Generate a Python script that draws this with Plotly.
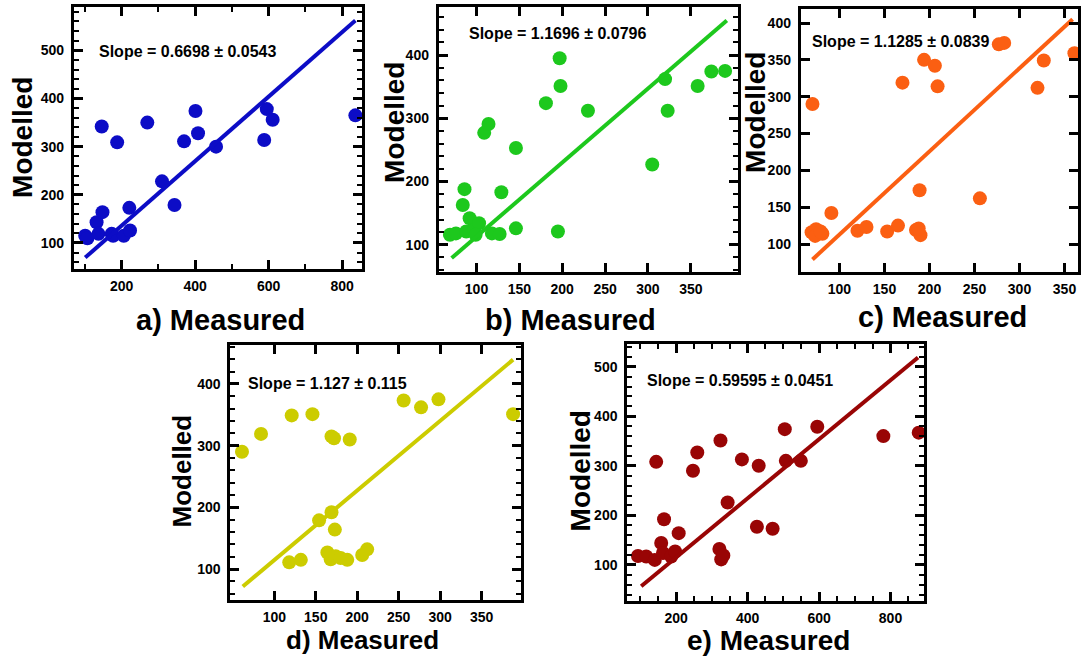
import plotly.graph_objects as go

W, H = 1081, 658

# ---------------- data ----------------
a_x = [101, 107, 132, 146, 148, 137, 173, 177, 188, 206, 221, 223, 270, 310, 344, 370, 401, 408, 457, 588, 595, 611, 836]
a_y = [115, 110, 143, 342, 164, 119, 119, 115, 309, 115, 173, 126, 350, 228, 179, 311, 374, 328, 300, 314, 378, 356, 365]

b_x = [69, 76, 86, 84, 92, 88, 97, 103, 99, 109, 114, 118, 127, 129, 146, 146, 181, 195, 197, 198, 230, 305, 320, 323, 358, 374, 390]
b_y = [116, 118, 188, 163, 142, 121, 124, 134, 116, 277, 291, 118, 117, 183, 253, 126, 324, 121, 395, 351, 312, 227, 362, 312, 351, 374, 375]

c_x = [70, 69, 74, 73, 81, 79, 91, 120, 130, 153, 165, 170, 185, 189, 190, 188, 194, 206, 209, 256, 277, 283, 320, 327, 361]
c_y = [290, 116, 120, 111, 114, 117, 142, 118, 123, 117, 125, 319, 119, 173, 112, 121, 350, 342, 314, 162, 371, 373, 312, 349, 359]

d_x = [61, 84, 121, 146, 169, 172, 191, 154, 169, 173, 118, 132, 164, 168, 174, 180, 188, 206, 212, 256, 277, 298, 388]
d_y = [290, 319, 349, 351, 315, 312, 310, 179, 192, 164, 111, 115, 127, 116, 121, 118, 115, 123, 132, 373, 362, 375, 351]

e_x = [93, 116, 140, 144, 158, 166, 163, 186, 197, 207, 247, 259, 324, 321, 326, 332, 344, 384, 426, 431, 470, 504, 507, 549, 595, 780, 879]
e_y = [118, 117, 110, 308, 144, 192, 124, 117, 127, 164, 290, 327, 351, 132, 111, 119, 226, 313, 177, 300, 173, 374, 310, 310, 379, 360, 367]

labels = ["a)", "b)", "c)", "d)", "e)"]
slopes = [0.6698, 1.1696, 1.1285, 1.127, 0.59595]
slope_errs = ["0.0543", "0.0796", "0.0839", "0.115", "0.0451"]
intercepts = [2, -4, 0, 2, -4]
fit_start = [101, 71, 70, 62, 102]
fit_end = [836, 392, 359, 388, 877]

a_xticks = [200, 400, 600, 800]
a_yticks = [100, 200, 300, 400, 500]
b_xticks = [100, 150, 200, 250, 300, 350]
b_yticks = [100, 200, 300, 400]
c_xticks = [100, 150, 200, 250, 300, 350]
c_yticks = [100, 150, 200, 250, 300, 350, 400]
d_xticks = [100, 150, 200, 250, 300, 350]
d_yticks = [100, 200, 300, 400]
e_xticks = [200, 400, 600, 800]
e_yticks = [100, 200, 300, 400, 500]

colors = ["#0c0cc6", "#1dc81d", "#fb5f12", "#cccc00", "#990505"]

# ---------------- layout geometry (pixels) ----------------
boxes = [  # x0, x1, y0, y1 (pixel, y from top)
    (74, 363, 7, 269),
    (440, 740, 7, 272),
    (803, 1081, 9, 272),
    (231, 522, 345, 600),
    (629, 927, 344, 601),
]
xranges = [(70, 854), (56, 405), (57, 365), (47, 397), (63, 895)]
yranges = [(46, 590), (57, 476), (62, 419), (50, 463), (27, 546)]
xminor = [100, None, None, None, 50]
yminor = [20, 20, None, 20, 20]
xtick_sets = [a_xticks, b_xticks, c_xticks, d_xticks, e_xticks]
ytick_sets = [a_yticks, b_yticks, c_yticks, d_yticks, e_yticks]

xt_pos = [(221, 320), (572, 320), (945, 317), (364, 640), (771, 640)]
xt_size = [29, 29, 29, 26, 28]
yt_pos = [(23, 137), (395, 122), (757, 112), (183, 471), (583, 471)]
yt_size = [28, 28, 28, 26, 28]
slope_pos = [(97, 52), (468, 34), (812, 42), (247, 383), (647, 381)]

data_x = [a_x, b_x, c_x, d_x, e_x]
data_y = [a_y, b_y, c_y, d_y, e_y]

FONT = "Liberation Sans, Arial, sans-serif"

fig = go.Figure()
layout = dict(
    width=W, height=H,
    margin=dict(l=0, r=0, t=0, b=0),
    paper_bgcolor="white", plot_bgcolor="white",
    showlegend=False,
    annotations=[],
)

for i in range(5):
    n = "" if i == 0 else str(i + 1)
    xa, ya = "x" + n, "y" + n
    x0, x1, y0, y1 = boxes[i]
    fig.add_trace(go.Scatter(
        x=data_x[i], y=data_y[i], mode="markers", xaxis=xa, yaxis=ya,
        marker=dict(size=14, color=colors[i], line=dict(width=0)),
    ))
    fx = [fit_start[i], fit_end[i]]
    fy = [intercepts[i] + slopes[i] * v for v in fx]
    fig.add_trace(go.Scatter(
        x=fx, y=fy, mode="lines", xaxis=xa, yaxis=ya,
        line=dict(color=colors[i], width=4),
    ))
    common = dict(
        showline=True, linewidth=3, linecolor="black", mirror="allticks",
        ticks="inside", ticklen=9, tickwidth=3, tickcolor="black",
        showgrid=False, zeroline=False,
        tickfont=dict(family=FONT, size=14, color="black", weight="bold"),
    )
    xax = dict(common, domain=[x0 / W, x1 / W], anchor=ya, range=list(xranges[i]),
               tickmode="array", tickvals=xtick_sets[i], ticklabelstandoff=2)
    if xminor[i]:
        xax["minor"] = dict(ticks="inside", ticklen=5, tickwidth=2, tickcolor="black",
                            dtick=xminor[i], showgrid=False)
    yax = dict(common, domain=[1 - y1 / H, 1 - y0 / H], anchor=xa, range=list(yranges[i]),
               tickmode="array", tickvals=ytick_sets[i], ticklabelstandoff=4)
    if yminor[i]:
        yax["minor"] = dict(ticks="inside", ticklen=5, tickwidth=2, tickcolor="black",
                            dtick=yminor[i], showgrid=False)
    layout["xaxis" + n] = xax
    layout["yaxis" + n] = yax

    layout["annotations"].append(dict(
        text=labels[i] + " Measured", xref="paper", yref="paper",
        x=xt_pos[i][0] / W, y=1 - xt_pos[i][1] / H, xanchor="center", yanchor="middle",
        showarrow=False, font=dict(family=FONT, size=xt_size[i], color="black", weight="bold"),
    ))
    layout["annotations"].append(dict(
        text="Modelled", xref="paper", yref="paper", textangle=-90,
        x=yt_pos[i][0] / W, y=1 - yt_pos[i][1] / H, xanchor="center", yanchor="middle",
        showarrow=False, font=dict(family=FONT, size=yt_size[i], color="black", weight="bold"),
    ))
    layout["annotations"].append(dict(
        text=f"Slope = {slopes[i]} \u00b1 {slope_errs[i]}", xref="paper", yref="paper",
        x=slope_pos[i][0] / W, y=1 - slope_pos[i][1] / H, xanchor="left", yanchor="middle",
        showarrow=False, font=dict(family=FONT, size=16, color="black", weight="bold"),
    ))

fig.update_layout(**layout)
fig.write_html("out.html", config={"displayModeBar": False},
               post_script="document.body.style.margin='0';document.body.style.overflow='hidden';")
